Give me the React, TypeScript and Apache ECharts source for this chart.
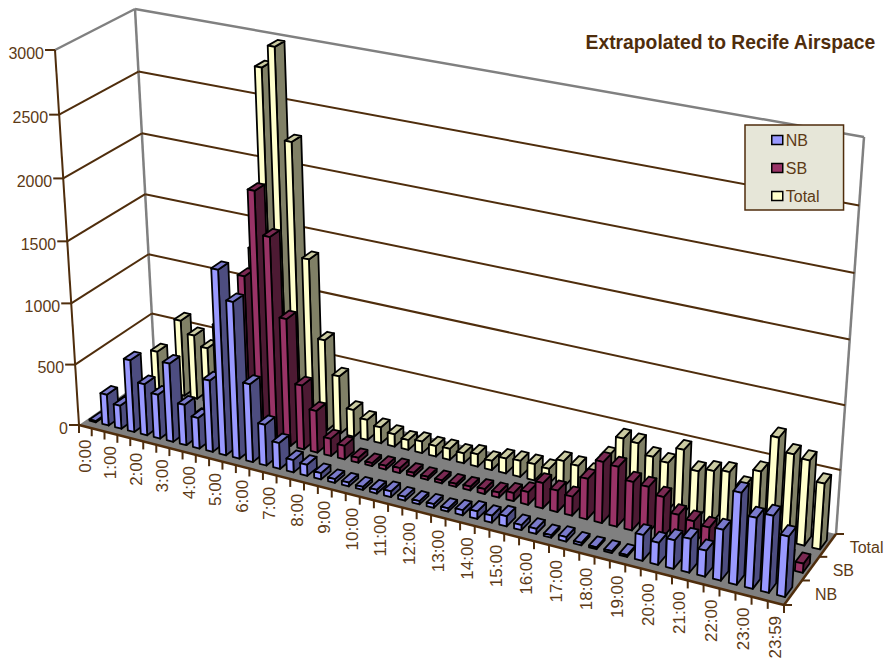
import React, { useEffect, useRef } from "react";
import * as echarts from "echarts";

const categories: string[] = [];
for (let h = 0; h < 24; h++) { categories.push(h + ":00"); categories.push(h + ":30"); }
categories.push("23:59");

const nb = [10,255,190,590,420,360,640,330,250,580,1490,1260,630,330,210,100,90,50,30,30,25,30,45,30,25,30,25,40,60,55,80,40,40,20,35,20,15,15,15,200,170,220,260,200,390,700,540,585,460];
const sb = [5,65,40,70,110,90,50,200,400,800,1300,2000,1660,1030,520,340,140,110,40,25,30,40,30,25,25,25,30,40,40,65,100,200,170,150,320,480,470,380,370,320,210,190,170,145,100,100,140,75,70];
const total = [15,320,230,630,530,450,660,530,650,1360,2820,3000,2280,1370,740,470,220,165,130,100,80,95,85,90,80,100,75,120,130,130,120,210,200,170,330,500,490,410,390,520,380,410,430,345,490,780,680,660,510];
const valueTicks = [0, 500, 1000, 1500, 2000, 2500, 3000];
const rowNames = ["NB", "SB", "Total"];

const W = 884, H = 662;
const BROWN = "#4f2d0c";
const TEXT = "#5c3a16";
const GRAY = "#808080";
const FONT_FAMILY = '"Liberation Sans", Arial, sans-serif';
const FONT = '16px "Liberation Sans", Arial, sans-serif';
const FONT_X = '17px "Liberation Sans", Arial, sans-serif';

type P = [number, number];
function quad(p0: P, p1: P, p2: P, p3: P) {
  const dx1 = p1[0] - p2[0], dx2 = p3[0] - p2[0], sx = p0[0] - p1[0] + p2[0] - p3[0];
  const dy1 = p1[1] - p2[1], dy2 = p3[1] - p2[1], sy = p0[1] - p1[1] + p2[1] - p3[1];
  const den = dx1 * dy2 - dx2 * dy1;
  const g = (sx * dy2 - dx2 * sy) / den, h = (dx1 * sy - sx * dy1) / den;
  const a = p1[0] - p0[0] + g * p1[0], b = p3[0] - p0[0] + h * p3[0];
  const d = p1[1] - p0[1] + g * p1[1], e = p3[1] - p0[1] + h * p3[1];
  return (u: number, v: number): P => {
    const w = g * u + h * v + 1;
    return [(a * u + b * v + p0[0]) / w, (d * u + e * v + p0[1]) / w];
  };
}
const floorQ = quad([79, 425], [784, 605], [836, 534], [155, 372]);
const ceilQ = quad([55, 50], [809, 195], [864, 137], [135, 9]);
const warp = (u: number, k: number) => (u * (1 + k)) / (1 + k * u);
const floor = (u: number, z: number) => floorQ(warp(u, 0.035), z);
const ceil = (u: number, z: number) => ceilQ(warp(u, 0.06), z);
const PY = -0.04;
function proj(u: number, z: number, y: number): P {
  const a = floor(u, z), b = ceil(u, z);
  const t = (y * (1 + PY)) / (1 + PY * y);
  return [a[0] + (b[0] - a[0]) * t, a[1] + (b[1] - a[1]) * t];
}

const BAR_X = 0.25, Z_START = 0.28, Z_END = 0.68;

function barSeries(name: string, data: number[], row: number, front: string, side: string, top: string) {
  return {
    name,
    type: "custom",
    coordinateSystem: "cartesian2d",
    data: data.map((v, i) => [i, v]),
    encode: { x: 0, y: 1 },
    itemStyle: { color: front },
    renderItem: (_p: any, api: any) => {
      const c = api.coord([api.value(0), api.value(1)]);
      const slot = api.size([1, 0])[0] / W;
      const u = c[0] / W, y = (H - c[1]) / H;
      const x0 = u - slot * BAR_X, x1 = u + slot * BAR_X;
      const z0 = (row + Z_START) / 3, z1 = (row + Z_END) / 3;
      const st = (fill: string) => ({ fill, stroke: "#000", lineWidth: 1.8, lineJoin: "round" });
      return {
        type: "group",
        children: [
          { type: "polygon", shape: { points: [proj(x1, z0, 0), proj(x1, z1, 0), proj(x1, z1, y), proj(x1, z0, y)] }, style: st(side) },
          { type: "polygon", shape: { points: [proj(x0, z0, y), proj(x1, z0, y), proj(x1, z1, y), proj(x0, z1, y)] }, style: st(top) },
          { type: "polygon", shape: { points: [proj(x0, z0, 0), proj(x1, z0, 0), proj(x1, z0, y), proj(x0, z0, y)] }, style: st(front) },
        ],
      };
    },
  };
}

function sceneSeries() {
  return {
    type: "custom",
    coordinateSystem: "cartesian2d",
    silent: true,
    data: [[0, 0]],
    encode: { x: 0, y: 1 },
    renderItem: (_p: any, api: any) => {
      const kids: any[] = [];
      const line = (a: P, b: P, stroke: string, lineWidth = 2) =>
        kids.push({ type: "line", shape: { x1: a[0], y1: a[1], x2: b[0], y2: b[1] }, style: { stroke, lineWidth } });
      const n = categories.length;
      kids.push({ type: "polygon", shape: { points: [floor(0, 0), floor(1, 0), floor(1, 1), floor(0, 1)] }, style: { fill: GRAY } });
      line(proj(0, 0, 1), proj(0, 1, 1), GRAY, 2.5);
      line(proj(0, 1, 1), proj(1, 1, 1), GRAY, 2.5);
      line(proj(0, 1, 1), proj(0, 1, 0), GRAY, 2.5);
      line(proj(1, 1, 1), proj(1, 1, 0), GRAY, 2.5);
      valueTicks.forEach((t) => {
        const y = (H - api.coord([0, t])[1]) / H;
        const a = proj(0, 0, y);
        if (t > 0 && t < 3000) {
          line(a, proj(0, 1, y), BROWN);
          line(proj(0, 1, y), proj(1, 1, y), BROWN);
        }
        line([a[0] - 10, a[1]], a, BROWN);
        kids.push({ type: "text", x: a[0] - 11, y: a[1] + 3, style: { text: String(t), fill: TEXT, font: FONT, align: "right", verticalAlign: "middle" } });
      });
      line(proj(0, 0, 0), proj(0, 0, 1), BROWN);
      line(floor(0, 0), floor(1, 0), BROWN, 2.5);
      line(floor(1, 0), floor(1, 1), BROWN, 2.5);
      for (let k = 0; k <= n; k++) {
        const a = floor(k / n, 0);
        line(a, [a[0], a[1] + 8], BROWN);
      }
      categories.forEach((c, i) => {
        if (i % 2 !== 0) return;
        const a = floor((i + 0.5) / n, 0);
        kids.push({ type: "text", x: a[0], y: a[1] + 13, rotation: Math.PI / 2, style: { text: c, fill: TEXT, font: FONT_X, align: "right", verticalAlign: "middle" } });
      });
      for (let k = 0; k <= 3; k++) {
        const a = floor(1, k / 3);
        line(a, [a[0] + 8, a[1]], BROWN);
      }
      rowNames.forEach((r, i) => {
        const a = floor(1, (i + 0.5) / 3);
        kids.push({ type: "text", x: a[0] + 22, y: a[1] + 2, style: { text: r, fill: TEXT, font: FONT, align: "left", verticalAlign: "middle" } });
      });
      return { type: "group", children: kids };
    },
  };
}

export default function App() {
  const ref = useRef<HTMLDivElement>(null);
  useEffect(() => {
    const chart = echarts.init(ref.current!, undefined, { renderer: "svg" });
    chart.setOption({
      animation: false,
      backgroundColor: "#fff",
      title: {
        text: "Extrapolated to Recife Airspace",
        right: 3, top: 28,
        textStyle: { color: BROWN, fontFamily: FONT_FAMILY, fontWeight: "bold", fontSize: 19.3 },
      },
      legend: {
        data: rowNames, orient: "vertical", left: 745, top: 125,
        padding: [7, 24, 6, 26], itemWidth: 11, itemHeight: 9, itemGap: 12,
        icon: "rect", backgroundColor: "#e6e6d8", borderColor: BROWN, borderWidth: 1.5,
        itemStyle: { borderColor: "#000", borderWidth: 1.5 },
        textStyle: { color: TEXT, fontFamily: FONT_FAMILY, fontSize: 16, padding: [0, 0, 0, -2] },
      },
      grid: { left: 0, right: 0, top: 0, bottom: 0 },
      xAxis: { type: "category", data: categories, show: false },
      yAxis: { type: "value", min: 0, max: 3000, interval: 500, show: false },
      series: [
        sceneSeries(),
        barSeries("Total", total, 2, "#ffffcc", "#808066", "#cccca3"),
        barSeries("SB", sb, 1, "#993366", "#4d1a33", "#7a2952"),
        barSeries("NB", nb, 0, "#9999ff", "#4d4d80", "#7a7acc"),
      ],
    });
    return () => chart.dispose();
  }, []);
  return <div ref={ref} style={{ position: "absolute", left: 0, top: 0, width: W, height: H }} />;
}
